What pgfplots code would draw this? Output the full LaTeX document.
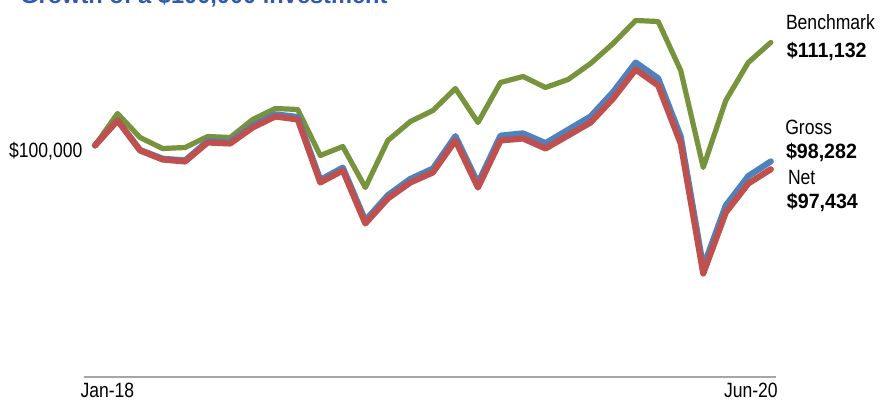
\documentclass[border=0pt]{standalone}
\usepackage{fontspec}
\setmainfont[FakeStretch=0.85]{Liberation Sans}
\newfontfamily\titlefont{Liberation Sans}
\newfontfamily\numfont[FakeStretch=0.95]{Liberation Sans}
\usepackage{pgfplots}
\pgfplotsset{compat=1.18}
\definecolor{bench}{HTML}{77933C}
\definecolor{gross}{HTML}{4F81BD}
\definecolor{net}{HTML}{C0504D}
\definecolor{titleblue}{HTML}{2F5AAE}
\definecolor{axisgray}{HTML}{A6A6A6}
\begin{document}
\begin{tikzpicture}
\useasboundingbox (0,0) rectangle (660.75pt,300pt);
\clip (0,0) rectangle (660.75pt,300pt);
\begin{axis}[
  at={(63pt,17.25pt)}, anchor=south west,
  scale only axis, width=519pt, height=277.8pt,
  xmin=-0.488, xmax=30.23, ymin=75000, ymax=115000,
  axis x line=bottom, axis y line=none,
  axis line style={-, axisgray, line width=1.2pt},
  xtick=\empty, ytick=\empty,
  clip=false,
  every axis plot/.append style={line join=round, line cap=round, mark=none},
]
\addplot[bench, line width=3.9pt] coordinates {
(0,100000) (1,103456) (2,100864) (3,99676) (4,99784) (5,100972) (6,100864)
(7,102808) (8,103996) (9,103888) (10,98920) (11,99892) (12,95464) (13,100540)
(14,102592) (15,103780) (16,106156) (17,102484) (18,106804) (19,107452) (20,106264)
(21,107128) (22,108856) (23,111016) (24,113500) (25,113392) (26,108100) (27,97624)
(28,104860) (29,108964) (30,111132)};
\addplot[gross, line width=4.6pt] coordinates {
(0,100000) (1,102730) (2,99518) (3,98574) (4,98386) (5,100469) (6,100390)
(7,102151) (8,103371) (9,103076) (10,96282) (11,97610) (12,91895) (13,94631)
(14,96394) (15,97506) (16,101006) (17,95935) (18,101065) (19,101311) (20,100254)
(21,101696) (22,103138) (23,105777) (24,108961) (25,107252) (26,100972) (27,86851)
(28,93517) (29,96702) (30,98282)};
\addplot[net, line width=4.6pt] coordinates {
(0,100000) (1,102700) (2,99460) (3,98488) (4,98272) (5,100324) (6,100216)
(7,101944) (8,103132) (9,102808) (10,96004) (11,97300) (12,91576) (13,94276)
(14,96004) (15,97084) (16,100540) (17,95464) (18,100540) (19,100756) (20,99676)
(21,101080) (22,102484) (23,105076) (24,108208) (25,106480) (26,100216) (27,86176)
(28,92764) (29,95896) (30,97434)};
\end{axis}
\node[anchor=base west, inner sep=0, text=titleblue, font=\titlefont\fontsize{17.7pt}{20pt}\selectfont\bfseries] at (15pt,297pt) {Growth of a \$100,000 investment};
\begin{scope}[every node/.style={inner sep=0, font=\fontsize{15.5pt}{18pt}\selectfont}]
\node[anchor=base east] at (62pt,182pt) {\$100,000};
\node[anchor=base west] at (589.3pt,278pt) {Benchmark};
\node[anchor=base west, font=\numfont\fontsize{15.5pt}{18pt}\selectfont\bfseries] at (590pt,257pt) {\$111,132};
\node[anchor=base west] at (588.75pt,198.75pt) {Gross};
\node[anchor=base west, font=\numfont\fontsize{15.5pt}{18pt}\selectfont\bfseries] at (589.3pt,181.3pt) {\$98,282};
\node[anchor=base west] at (590.8pt,161.8pt) {Net};
\node[anchor=base west, font=\numfont\fontsize{15.5pt}{18pt}\selectfont\bfseries] at (590pt,143.25pt) {\$97,434};
\node[anchor=base west] at (60.2pt,1.8pt) {Jan-18};
\node[anchor=base east] at (583.5pt,1.8pt) {Jun-20};
\end{scope}
\end{tikzpicture}
\end{document}
